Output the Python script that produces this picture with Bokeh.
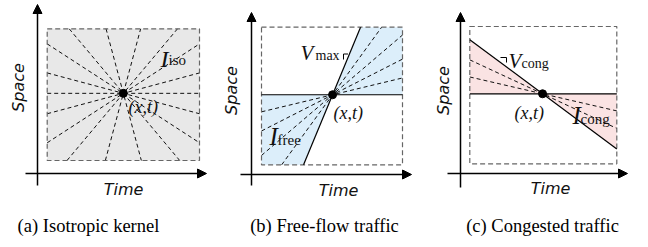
import math
from bokeh.plotting import figure
from bokeh.models import Range1d, Arrow, NormalHead
from bokeh.layouts import row
from bokeh.core.properties import value
from bokeh.embed import file_html
from bokeh.resources import INLINE

# ---------------- data ----------------
CAPTIONS = ["(a) Isotropic kernel", "(b) Free-flow traffic", "(c) Congested traffic"]
X_LABEL = "Time"
Y_LABEL = "Space"
POINT_LABEL = "(x,t)"
KERNEL_MAIN = ["I", "I", "I"]
KERNEL_SUB = ["iso", "free", "cong"]
SPEED_MAIN = ["V", "V"]
SPEED_SUB = ["max", "cong"]

# location (x,t) of the kernel centre inside each unit box (time, space)
POINT_A = (0.50, 0.51)
POINT_B = (0.504, 0.509)
POINT_C = (0.495, 0.51)

# directions of lines through (x,t), degrees
ISO_FAN_DEG = [0, 15, -15, 33, -33, 50, -50, 75, -75]
FREE_VMAX_DEG = 67.5
FREE_FAN_DEG = [13.5, 27.0, 40.5, 54.0]
CONG_V_DEG = -36.6
CONG_FAN_DEG = [-13.0, -25.0]

# ---------------- styles ----------------
GRAY_FILL = "#e8e8e8"
BLUE_FILL = "#dceefa"
PINK_FILL = "#fae3e3"
BOX_LINE = "#666666"
SERIF = value("Liberation Serif")
SANS = value("DejaVu Sans")
PAGE_TOP, PAGE_BOTTOM = 0, 247


class Panel:
    def __init__(self, fx0, W, box, pt):
        self.fx0, self.W = fx0, W
        self.bl, self.br, self.bt, self.bb = box
        self.bw = self.br - self.bl
        self.bh = self.bb - self.bt
        self.P = pt
        self.p = figure(
            width=W, height=PAGE_BOTTOM - PAGE_TOP,
            x_range=Range1d((fx0 - self.bl) / self.bw, (fx0 + W - self.bl) / self.bw),
            y_range=Range1d((self.bb - PAGE_BOTTOM) / self.bh, (self.bb - PAGE_TOP) / self.bh),
            output_backend="svg", toolbar_location=None, min_border=0,
            x_axis_location=None, y_axis_location=None, outline_line_color=None,
        )
        self.p.grid.visible = False

    def loc(self, X, Y):
        return ((X - self.bl) / self.bw, (self.bb - Y) / self.bh)

    def end(self, deg):
        th = math.radians(deg)
        dx = math.cos(th) / self.bw
        dy = math.sin(th) / self.bh
        px, py = self.P
        ts = []
        if dx > 1e-12:
            ts.append((1 - px) / dx)
        elif dx < -1e-12:
            ts.append(-px / dx)
        if dy > 1e-12:
            ts.append((1 - py) / dy)
        elif dy < -1e-12:
            ts.append(-py / dy)
        t = min(ts)
        return (px + t * dx, py + t * dy)

    def full_line(self, deg):
        a = self.end(deg + 180)
        b = self.end(deg)
        return [a[0], b[0]], [a[1], b[1]]

    def wedge(self, d0, d1):
        px, py = self.P
        pts = [self.P, self.end(d0)]
        corners = []
        for cx, cy in [(0, 0), (1, 0), (1, 1), (0, 1)]:
            ang = math.degrees(math.atan2((cy - py) * self.bh, (cx - px) * self.bw))
            while ang < d0:
                ang += 360
            while ang >= d0 + 360:
                ang -= 360
            if d0 < ang < d1:
                corners.append((ang, (cx, cy)))
        corners.sort()
        pts += [c for _, c in corners]
        pts.append(self.end(d1))
        return [q[0] for q in pts], [q[1] for q in pts]

    def box(self, fill=None):
        if fill:
            self.p.quad(left=[0], right=[1], bottom=[0], top=[1], fill_color=fill, line_color=None)

    def box_border(self):
        self.p.quad(left=[0], right=[1], bottom=[0], top=[1], fill_color=None,
                    line_color=BOX_LINE, line_dash="5 3", line_width=1.2)

    def fan(self, degs):
        xs, ys = [], []
        for d in degs:
            x, y = self.full_line(d)
            xs.append(x)
            ys.append(y)
        self.p.multi_line(xs=xs, ys=ys, line_color="#111111", line_dash="4 3", line_width=1)

    def solid(self, deg):
        x, y = self.full_line(deg)
        self.p.line(x=x, y=y, line_color="black", line_width=1.2)

    def point(self):
        self.p.scatter(x=[self.P[0]], y=[self.P[1]], size=8, color="black")

    def axes(self, yx, ybot, ytop, xy, xl, xr):
        for (x0, y0, x1, y1) in [(yx, ybot, yx, ytop), (xl, xy, xr, xy)]:
            a = self.loc(x0, y0)
            b = self.loc(x1, y1)
            self.p.add_layout(Arrow(
                end=NormalHead(size=9, fill_color="black", line_color="black"),
                x_start=a[0], y_start=a[1], x_end=b[0], y_end=b[1],
                line_color="black", line_width=1.5))

    def label(self, X, Y, txt, font, size, style="normal", align="left",
              baseline="alphabetic", angle=0.0, color="#111111"):
        x, y = self.loc(X, Y)
        self.p.text(x=[x], y=[y], text=[txt], text_font=font, text_font_size=size,
                    text_font_style=style, text_align=align, text_baseline=baseline,
                    angle=angle, text_color=color)

    def axis_labels(self, sx, sy, tx, ty):
        self.label(sx, sy, Y_LABEL, SANS, "16px", "italic", "center", "middle", math.pi / 2)
        self.label(tx, ty, X_LABEL, SANS, "16px", "italic", "center", "middle")

    def caption(self, X, txt):
        self.label(X, 225, txt, SERIF, "18.5px", "normal", "center", "alphabetic", color="black")

    def mark(self, pts_px):
        xs, ys = zip(*[self.loc(X, Y) for X, Y in pts_px])
        self.p.line(x=list(xs), y=list(ys), line_color="black", line_width=1)


# ---------------- panel (a) ----------------
A = Panel(0, 216, (46.7, 199.0, 28.3, 160.0), POINT_A)
A.box(GRAY_FILL)
A.fan(ISO_FAN_DEG)
A.box_border()
A.point()
A.axes(37, 185, 4, 173, 25, 206)
A.axis_labels(18, 87, 123, 189)
A.label(160, 58, KERNEL_MAIN[0], SERIF, "24px", "italic")
A.label(168, 59, KERNEL_SUB[0], SERIF, "15px")
A.label(128, 106, POINT_LABEL, SERIF, "18px", "italic")
A.caption(88, CAPTIONS[0])

# ---------------- panel (b) ----------------
B = Panel(216, 216, (261.0, 402.0, 26.7, 164.3), POINT_B)
for d0, d1 in [(0, FREE_VMAX_DEG), (180, 180 + FREE_VMAX_DEG)]:
    wx, wy = B.wedge(d0, d1)
    B.p.patch(x=wx, y=wy, fill_color=BLUE_FILL, line_color=None)
B.fan(FREE_FAN_DEG)
B.box_border()
B.solid(0)
B.solid(FREE_VMAX_DEG)
B.point()
B.axes(251, 185, 12, 174, 240, 411)
B.axis_labels(231, 90, 338, 190)
B.label(300, 52, SPEED_MAIN[0], SERIF, "21px", "italic")
B.label(315, 55, SPEED_SUB[0], SERIF, "14px")
B.mark([(343, 59), (343, 53.5), (347.5, 53.5)])
B.label(333, 112, POINT_LABEL, SERIF, "18px", "italic")
B.label(269, 136, KERNEL_MAIN[1], SERIF, "25px", "italic")
B.label(277, 139, KERNEL_SUB[1], SERIF, "15px")
B.caption(324, CAPTIONS[1])

# ---------------- panel (c) ----------------
C = Panel(432, 216, (469.3, 616.3, 26.0, 163.3), POINT_C)
for d0, d1 in [(CONG_V_DEG, 0), (180 + CONG_V_DEG, 180)]:
    wx, wy = C.wedge(d0, d1)
    C.p.patch(x=wx, y=wy, fill_color=PINK_FILL, line_color=None)
C.fan(CONG_FAN_DEG)
C.box_border()
C.solid(0)
C.solid(CONG_V_DEG)
C.point()
C.axes(460, 187, 12, 173, 447, 627)
C.axis_labels(443, 90, 550, 188)
C.label(508, 60, SPEED_MAIN[1], SERIF, "21px", "italic")
C.label(521, 63, SPEED_SUB[1], SERIF, "14px")
C.mark([(500, 57), (506, 57), (506, 62)])
C.label(514, 112, POINT_LABEL, SERIF, "18px", "italic")
C.label(572, 115, KERNEL_MAIN[2], SERIF, "25px", "italic")
C.label(580, 118, KERNEL_SUB[2], SERIF, "15px")
C.caption(542, CAPTIONS[2])

layout = row(A.p, B.p, C.p)
open("out.html", "w").write(file_html(layout, INLINE))
